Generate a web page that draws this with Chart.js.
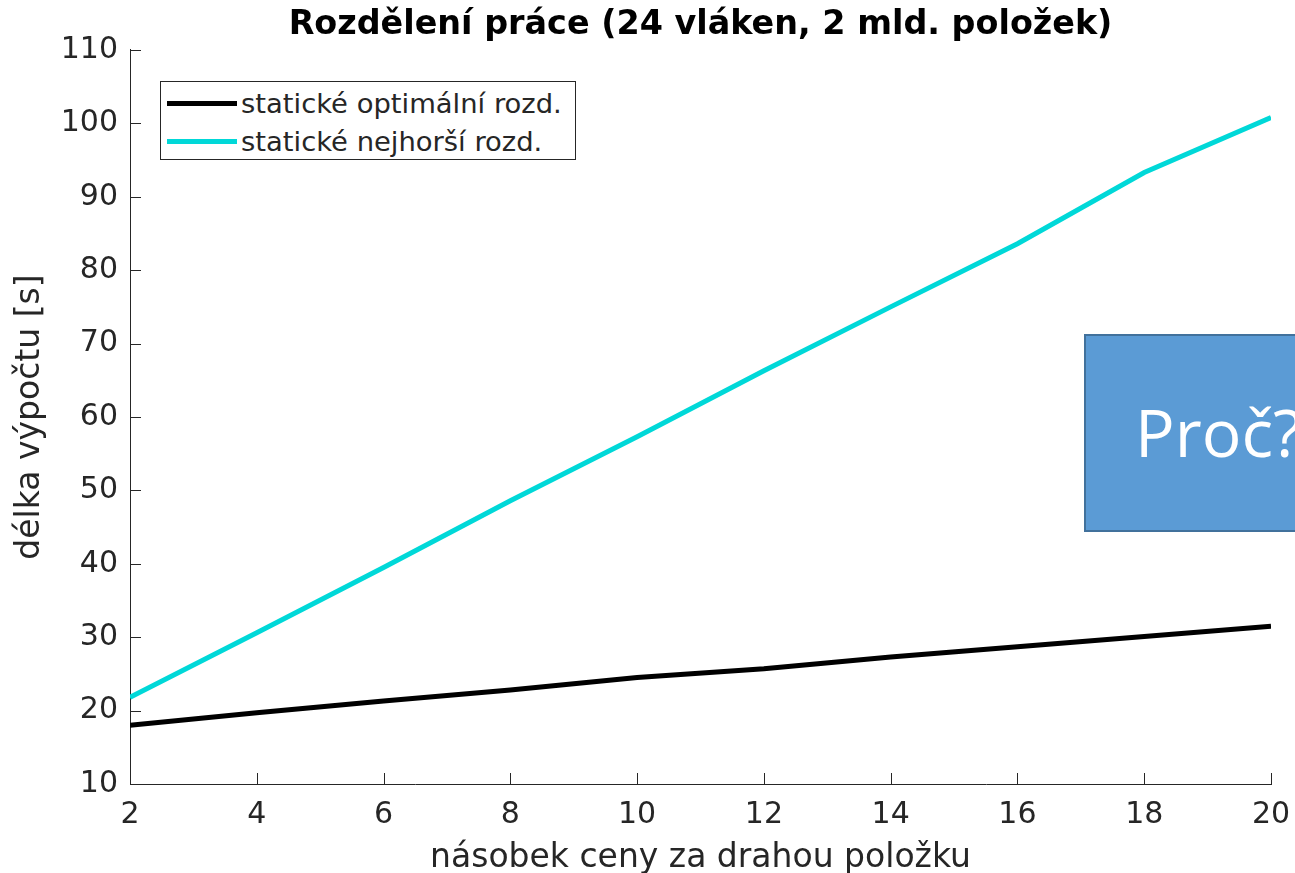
<!DOCTYPE html>
<html>
<head>
<meta charset="utf-8">
<script src="https://cdn.jsdelivr.net/npm/chart.js@4/dist/chart.umd.min.js"></script>
<style>
  html, body { margin: 0; padding: 0; background: #fff; overflow: hidden; }
  #wrap { position: relative; width: 1295px; height: 873px; overflow: hidden; }
  #c { position: absolute; left: 0; top: 0; }
  #legend { position: absolute; left: 160px; top: 81px; width: 414px; height: 77px;
            border: 1px solid #262626; background: #fff; font-family: "DejaVu Sans", sans-serif;
            font-size: 27.4px; color: #262626; box-sizing: content-box; }
  .row { position: absolute; left: 0; height: 30px; display: flex; align-items: center; white-space: nowrap; }
  .sample { width: 70px; height: 5px; margin-left: 6px; margin-right: 4px; flex: none; }
  #proc { position: absolute; left: 1084px; top: 334px; width: 260px; height: 194px;
          background: #5B9BD5; border: 2px solid #41719C; }
  #proc span { position: absolute; left: 49px; top: 62px; font-family: "Open Sans", sans-serif;
               font-size: 66px; color: #fff; line-height: 1; }
</style>
</head>
<body>
<div id="wrap">
  <canvas id="c" width="1295" height="873"></canvas>
  <div id="legend"></div>
  <div id="proc"><span>Proč?</span></div>
</div>
<script>
const xValues = [2, 4, 6, 8, 10, 12, 14, 16, 18, 20];
const optimalSeries = [18.0, 19.7, 21.3, 22.8, 24.5, 25.7, 27.3, 28.7, 30.1, 31.5];
const worstSeries = [21.8, 30.6, 39.5, 48.6, 57.3, 66.3, 75.0, 83.6, 93.3, 100.8];
const seriesLabels = ["statické optimální rozd.", "statické nejhorší rozd."];
const seriesColors = ["#000000", "#00D8D8"];
const titleText = "Rozdělení práce (24 vláken, 2 mld. položek)";
const xTitle = "násobek ceny za drahou položku";
const yTitle = "délka výpočtu [s]";

const axisColor = "#262626";

const inwardTicks = {
  id: 'inwardTicks',
  afterDraw(chart) {
    const ctx = chart.ctx;
    const a = chart.chartArea;
    const xs = chart.scales.x, ys = chart.scales.y;
    ctx.save();
    ctx.strokeStyle = axisColor;
    ctx.lineWidth = 1;
    ctx.beginPath();
    xs.ticks.forEach(t => {
      const px = Math.round(xs.getPixelForValue(t.value)) + 0.5;
      ctx.moveTo(px, a.bottom);
      ctx.lineTo(px, a.bottom - 11);
    });
    ys.ticks.forEach(t => {
      const py = Math.round(ys.getPixelForValue(t.value)) + 0.5;
      ctx.moveTo(a.left, py);
      ctx.lineTo(a.left + 11, py);
    });
    ctx.stroke();
    ctx.restore();
  }
};

const chart = new Chart(document.getElementById('c'), {
  type: 'line',
  data: {
    datasets: [
      { label: seriesLabels[0], data: xValues.map((x, i) => ({x, y: optimalSeries[i]})),
        borderColor: seriesColors[0], borderWidth: 5, pointRadius: 0, tension: 0, fill: false },
      { label: seriesLabels[1], data: xValues.map((x, i) => ({x, y: worstSeries[i]})),
        borderColor: seriesColors[1], borderWidth: 5, pointRadius: 0, tension: 0, fill: false }
    ]
  },
  options: {
    responsive: false,
    animation: false,
    layout: { padding: { left: 0, right: 24, top: 0, bottom: 0 } },
    plugins: {
      legend: { display: false },
      tooltip: { enabled: false },
      title: {
        display: true, text: titleText, fullSize: false, color: '#000',
        font: { family: 'DejaVu Sans', size: 33.4, weight: 'bold', lineHeight: 1.2 },
        padding: { top: 5, bottom: 4.9 }
      }
    },
    scales: {
      x: {
        type: 'linear', min: 2, max: 20,
        border: { display: true, color: axisColor, width: 1 },
        grid: { display: false, drawTicks: false },
        ticks: { stepSize: 2, color: axisColor, padding: 13,
                 font: { family: 'DejaVu Sans', size: 30 } },
        title: { display: true, text: xTitle, color: axisColor, padding: { top: 0, bottom: -5 },
                 font: { family: 'DejaVu Sans', size: 33 } },
        afterFit(s) { s.height = 89; s.paddingRight = 0; s.paddingLeft = 0; }
      },
      y: {
        type: 'linear', min: 10, max: 110,
        border: { display: true, color: axisColor, width: 1 },
        grid: { display: false, drawTicks: false },
        ticks: { stepSize: 10, color: axisColor, padding: 12,
                 font: { family: 'DejaVu Sans', size: 30 } },
        title: { display: true, text: yTitle, color: axisColor, padding: { top: 11, bottom: 0 },
                 font: { family: 'DejaVu Sans', size: 33 } },
        afterFit(s) { s.width = 130; s.paddingTop = 0; s.paddingBottom = 0; }
      }
    }
  },
  plugins: [inwardTicks]
});

// HTML legend built from chart datasets
const leg = document.getElementById('legend');
chart.data.datasets.forEach((ds, i) => {
  const row = document.createElement('div');
  row.className = 'row';
  row.style.top = (6 + i * 38) + 'px';
  const s = document.createElement('div');
  s.className = 'sample';
  s.style.background = ds.borderColor;
  const t = document.createElement('span');
  t.textContent = ds.label;
  row.appendChild(s); row.appendChild(t);
  leg.appendChild(row);
});
</script>
</body>
</html>
